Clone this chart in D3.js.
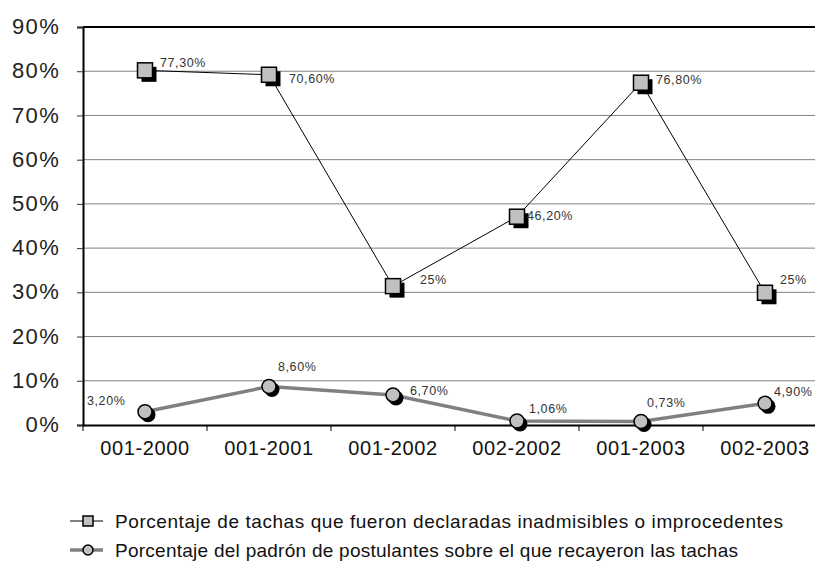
<!DOCTYPE html>
<meta charset="utf-8">
<style type="text/css">
    body { margin: 0; background: #fff; }
    svg { display: block; font-family: "Liberation Sans", Arial, sans-serif; }
    .grid line { stroke: #808080; stroke-width: 1; }
    .lineSq { fill: none; stroke: #000; stroke-width: 1; }
    .lineCi { fill: none; stroke: #808080; stroke-width: 3.5; }
    .mark { fill: #c0c0c0; stroke: #000; stroke-width: 1.5; }
    .shadow { fill: #000; }
    .lbl { font-size: 12.5px; fill: #333; letter-spacing: 0.6px; }
</style>
<body></body>
<script src="https://d3js.org/d3.v7.min.js"></script>
<script>

    // categories on the x axis
    var periods = ["001-2000", "001-2001", "001-2002", "002-2002", "001-2003", "002-2003"];

    // plotted positions of the markers (percent) and the labels printed beside them
    var tachasValues = [80.2, 79.2, 31.4, 47.1, 77.4, 29.9];
    var tachasLabels = ["77,30%", "70,60%", "25%", "46,20%", "76,80%", "25%"];

    var padronValues = [3.0, 8.7, 6.8, 0.9, 0.8, 4.9];
    var padronLabels = ["3,20%", "8,60%", "6,70%", "1,06%", "0,73%", "4,90%"];

    var yTicks = [0, 10, 20, 30, 40, 50, 60, 70, 80, 90];

    var legendNames = [
        "Porcentaje de tachas que fueron declaradas inadmisibles o improcedentes",
        "Porcentaje del padrón de postulantes sobre el que recayeron las tachas"
    ];

    // label offsets from the marker centre (layout only)
    var tachasLabelOffset = [[15, -3], [20, 8], [27, -2], [10, 3], [15, 1], [15, -9]];
    var padronLabelOffset = [[-58, -7], [9, -16], [17, 0], [12, -8], [6, -14], [9, -7]];

    var svgW = 815, svgH = 574;
    var plotLeft = 83, plotTop = 27, plotBottom = 425, bandW = 124;

    var svg = d3.select("body").append("svg")
        .attr("width", svgW)
        .attr("height", svgH);

    var x = d3.scaleBand()
        .domain(periods)
        .range([plotLeft, plotLeft + bandW * periods.length]);

    var y = d3.scaleLinear()
        .domain([0, 90])
        .range([plotBottom, plotTop]);

    var cx = function(d, i) { return x(periods[i]) + x.bandwidth() / 2; };

    // gridlines
    svg.append("g").attr("class", "grid")
        .selectAll("line")
        .data(yTicks.filter(function(t) { return t > 0 && t < 90; }))
        .enter().append("line")
        .attr("x1", plotLeft).attr("x2", x.range()[1])
        .attr("y1", function(d) { return y(d); })
        .attr("y2", function(d) { return y(d); });

    // top border
    svg.append("line")
        .attr("x1", plotLeft).attr("x2", x.range()[1])
        .attr("y1", y(90)).attr("y2", y(90))
        .attr("stroke", "#000").attr("stroke-width", 2);

    // y axis
    var yAxis = d3.axisLeft(y).tickValues(yTicks).tickSize(6).tickFormat(function(d) { return d + "%"; });
    var gy = svg.append("g").attr("transform", "translate(" + plotLeft + ",0)").call(yAxis);
    gy.select(".domain").attr("stroke-width", 2);
    gy.selectAll(".tick line").attr("stroke", "#333");
    gy.selectAll(".tick text")
        .attr("x", -23).attr("dy", "0.3em")
        .style("font-size", "22px").style("fill", "#222")
        .style("font-family", "'Liberation Sans', Arial, sans-serif")
        .attr("letter-spacing", "1.3px");

    // x axis
    var xAxis = d3.axisBottom(x).tickSize(0);
    var gx = svg.append("g").attr("transform", "translate(0," + plotBottom + ")").call(xAxis);
    gx.select(".domain").attr("stroke-width", 2);
    gx.selectAll(".tick text")
        .attr("y", 30).attr("dy", 0)
        .style("font-size", "20px").style("fill", "#111")
        .style("font-family", "'Liberation Sans', Arial, sans-serif")
        .attr("letter-spacing", "0.6px");
    // ticks between categories
    gx.selectAll(".sep")
        .data(d3.range(periods.length + 1))
        .enter().append("line")
        .attr("x1", function(d) { return plotLeft + d * bandW; })
        .attr("x2", function(d) { return plotLeft + d * bandW; })
        .attr("y1", 0).attr("y2", 6)
        .attr("stroke", "#000");

    var lineGen = d3.line()
        .x(cx)
        .y(function(d) { return y(d); });

    svg.append("path").datum(padronValues).attr("class", "lineCi").attr("d", lineGen);
    svg.append("path").datum(tachasValues).attr("class", "lineSq").attr("d", lineGen);

    // squares with shadow
    var sq = 15;
    svg.selectAll(".sqShadow")
        .data(tachasValues).enter().append("rect")
        .attr("class", "shadow")
        .attr("x", function(d, i) { return cx(d, i) - sq / 2 + 4; })
        .attr("y", function(d) { return y(d) - sq / 2 + 4; })
        .attr("width", sq).attr("height", sq);
    svg.selectAll(".sq")
        .data(tachasValues).enter().append("rect")
        .attr("class", "mark")
        .attr("x", function(d, i) { return cx(d, i) - sq / 2; })
        .attr("y", function(d) { return y(d) - sq / 2; })
        .attr("width", sq).attr("height", sq);

    // circles with shadow
    svg.selectAll(".ciShadow")
        .data(padronValues).enter().append("circle")
        .attr("class", "shadow")
        .attr("cx", function(d, i) { return cx(d, i) + 3; })
        .attr("cy", function(d) { return y(d) + 3; })
        .attr("r", 7.5);
    svg.selectAll(".ci")
        .data(padronValues).enter().append("circle")
        .attr("class", "mark")
        .attr("cx", cx)
        .attr("cy", function(d) { return y(d); })
        .attr("r", 7);

    // data labels
    svg.selectAll(".lblSq")
        .data(tachasValues).enter().append("text")
        .attr("class", "lbl")
        .attr("x", function(d, i) { return cx(d, i) + tachasLabelOffset[i][0]; })
        .attr("y", function(d, i) { return y(d) + tachasLabelOffset[i][1]; })
        .text(function(d, i) { return tachasLabels[i]; });

    svg.selectAll(".lblCi")
        .data(padronValues).enter().append("text")
        .attr("class", "lbl")
        .attr("x", function(d, i) { return cx(d, i) + padronLabelOffset[i][0]; })
        .attr("y", function(d, i) { return y(d) + padronLabelOffset[i][1]; })
        .text(function(d, i) { return padronLabels[i]; });

    // legend
    var legend = svg.append("g");
    var rowY = [521, 550], textLen = [668, 623];

    legend.append("line").attr("x1", 70).attr("x2", 103).attr("y1", rowY[0]).attr("y2", rowY[0])
        .attr("stroke", "#000").attr("stroke-width", 1);
    legend.append("rect").attr("class", "mark").attr("stroke-width", 1.2)
        .attr("x", 83).attr("y", rowY[0] - 5).attr("width", 10).attr("height", 10);

    legend.append("line").attr("x1", 70).attr("x2", 103).attr("y1", rowY[1]).attr("y2", rowY[1])
        .attr("stroke", "#808080").attr("stroke-width", 3.5);
    legend.append("circle").attr("class", "mark").attr("stroke-width", 1.2)
        .attr("cx", 88).attr("cy", rowY[1]).attr("r", 5);

    legend.selectAll(".legTxt")
        .data(legendNames).enter().append("text")
        .attr("x", 115)
        .attr("y", function(d, i) { return rowY[i] + 7; })
        .attr("textLength", function(d, i) { return textLen[i]; })
        .attr("lengthAdjust", "spacing")
        .style("font-size", "19px").style("fill", "#111")
        .text(function(d) { return d; });

</script>
